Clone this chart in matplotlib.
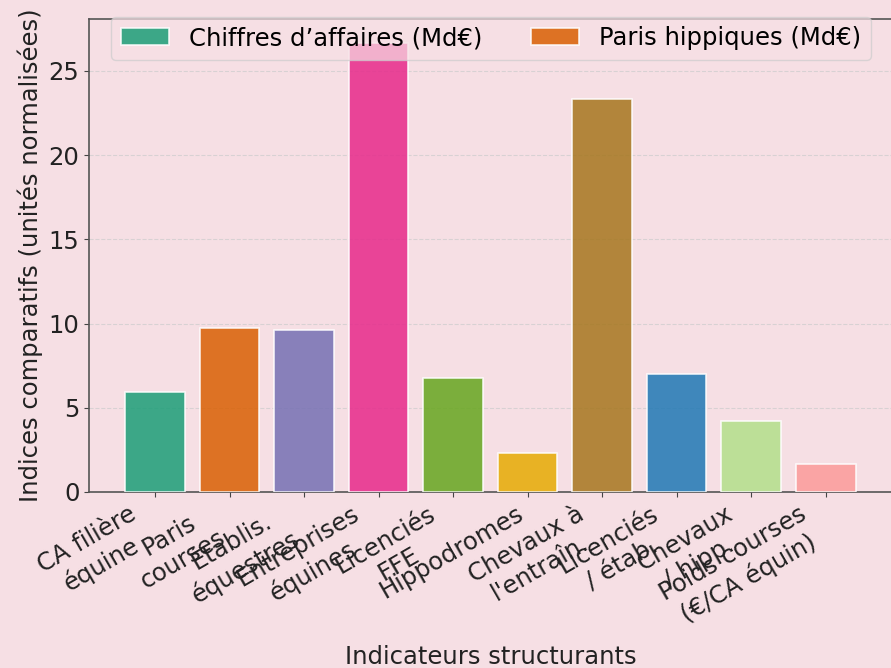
import matplotlib
matplotlib.use("Agg")
import matplotlib.pyplot as plt

categories = ["CA filière\néquine", "Paris\ncourses", "Établis.\néquestres", "Entreprises\néquines",
              "Licenciés\nFFE", "Hippodromes", "Chevaux à\nl'entraîn.", "Licenciés\n/ étab.",
              "Chevaux\n/ hipp.", "Poids courses\n(€/CA équin)"]
values = [5.95, 9.75, 9.6, 26.65, 6.75, 2.3, 23.35, 7.0, 4.2, 1.65]
colors = ["#1b9e77", "#d95f02", "#7570b3", "#e7298a", "#66a61e", "#e6ab02", "#a6761d",
          "#1f78b4", "#b2df8a", "#fb9a99"]
legend_labels = ["Chiffres d’affaires (Md€)", "Paris hippiques (Md€)"]

bg = "#f6dfe4"
fs = 17.5
plt.rcParams["font.family"] = ["DejaVu Sans"]
fig = plt.figure(figsize=(8.91, 6.68), dpi=100, facecolor=bg)
ax = fig.add_axes([0.1, 0.2635, 0.902, 0.7085])
ax.set_facecolor(bg)

x = list(range(len(categories)))
bars = ax.bar(x, values, width=0.8, color=colors, alpha=0.85, edgecolor="white", linewidth=1.2, zorder=3)
bars[0].set_label(legend_labels[0])
bars[1].set_label(legend_labels[1])

ax.set_ylim(0, 28.1)
ax.set_xlim(-0.885, 9.9)
ax.set_yticks([0, 5, 10, 15, 20, 25])
ax.set_xticks(x)
ax.set_xticklabels(categories, rotation=30, ha="right", multialignment="center",
                   fontsize=fs, color="#222222")
ax.tick_params(axis="y", labelsize=fs, colors="#222222")
ax.tick_params(axis="both", color="#444444")
ax.grid(axis="y", linestyle="--", color="#cccccc", alpha=0.7, linewidth=0.8, zorder=0)
for s in ["left", "bottom", "top", "right"]:
    ax.spines[s].set_color("#555555")
    ax.spines[s].set_linewidth(1.2)

ax.set_ylabel("Indices comparatifs (unités normalisées)", fontsize=fs, color="#222222")
ax.set_xlabel("Indicateurs structurants", fontsize=fs, color="#222222", labelpad=10)

leg = ax.legend(handles=[bars[0], bars[1]], loc="upper center", bbox_to_anchor=(0.5, 1.03),
                ncol=2, fontsize=fs, frameon=True, framealpha=0.7, facecolor=bg, edgecolor="#cccccc")

fig.savefig("out.png", dpi=100, facecolor=bg)
